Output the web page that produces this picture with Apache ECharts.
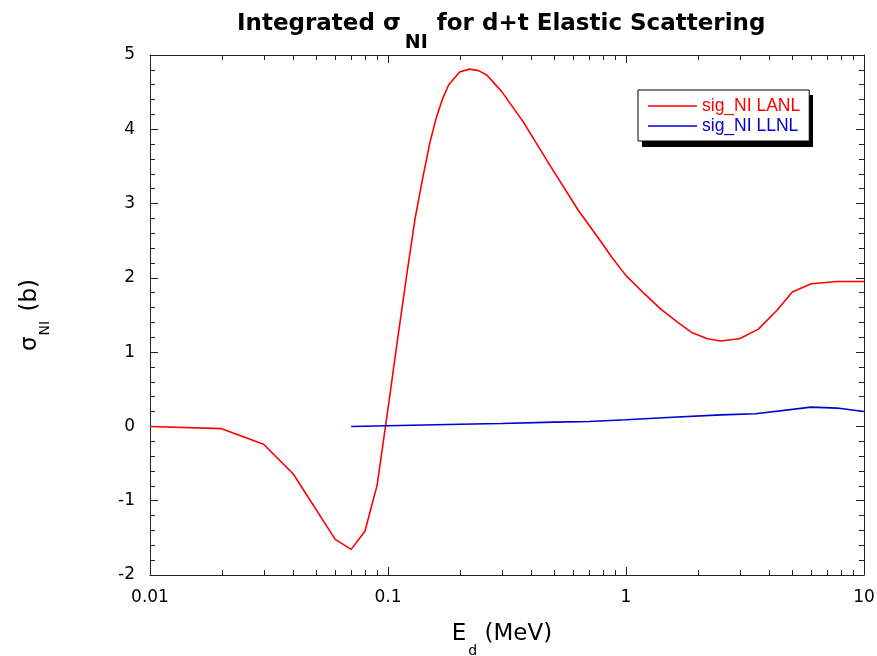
<!DOCTYPE html>
<html><head><meta charset="utf-8">
<script src="https://cdn.jsdelivr.net/npm/echarts@6/dist/echarts.min.js"></script>
<style>html,body{margin:0;padding:0;background:#fff}#c{width:877px;height:656px}</style>
</head><body><div id="c"></div>
<script>
// LANL integrated nuclear-interference cross section (b) vs deuteron energy (MeV)
const lanlEnergy = [0.01, 0.02, 0.03, 0.04, 0.06, 0.07, 0.08, 0.09, 0.1, 0.11, 0.12, 0.13, 0.14, 0.15, 0.16, 0.17, 0.18, 0.2, 0.22, 0.24, 0.26, 0.3, 0.37, 0.48, 0.63, 0.78, 0.87, 1.0, 1.2, 1.4, 1.65, 1.9, 2.2, 2.5, 3.0, 3.6, 4.3, 5.0, 6.0, 7.7, 10];
const lanlSigma  = [0.0, -0.03, -0.24, -0.64, -1.52, -1.655, -1.41, -0.79, 0.24, 1.2, 2.05, 2.8, 3.35, 3.82, 4.17, 4.42, 4.6, 4.77, 4.81, 4.79, 4.73, 4.51, 4.1, 3.51, 2.91, 2.5, 2.28, 2.03, 1.78, 1.58, 1.4, 1.26, 1.18, 1.15, 1.18, 1.31, 1.56, 1.81, 1.92, 1.95, 1.95];
// LLNL values
const llnlEnergy = [0.07, 0.1, 0.2, 0.3, 0.5, 0.7, 1.0, 1.5, 2.5, 3.5, 6.0, 7.7, 10];
const llnlSigma  = [0.0, 0.01, 0.03, 0.04, 0.058, 0.067, 0.09, 0.12, 0.155, 0.17, 0.26, 0.247, 0.2];
const xTickLabels = { '0.01': '0.01', '0.1': '0.1', '1': '1', '10': '10' };
const seriesNames = ['sig_NI LANL', 'sig_NI LLNL'];
const seriesColors = ['#ff0000', '#0000d0'];

const pairs = (xs, ys) => xs.map((x, i) => [x, ys[i]]);
const axisColor = '#222';
const sans = 'DejaVu Sans';
const labelFont = { fontFamily: sans, fontSize: 17, color: '#000' };

const chart = echarts.init(document.getElementById('c'), null, { renderer: 'canvas' });
const xBase = {
  type: 'log', logBase: 10, min: 0.01, max: 10,
  axisLine: { show: true, onZero: false, lineStyle: { color: axisColor, width: 1 } },
  axisTick: { show: true, inside: true, length: 8, lineStyle: { color: axisColor } },
  splitLine: { show: false }
};
const yBase = {
  type: 'value', min: -2, max: 5, interval: 1,
  axisLine: { show: true, onZero: false, lineStyle: { color: axisColor, width: 1 } },
  axisTick: { show: true, inside: true, length: 8, lineStyle: { color: axisColor } },
  minorTick: { show: true, splitNumber: 5, length: 5, lineStyle: { color: axisColor } },
  splitLine: { show: false }, minorSplitLine: { show: false }
};

chart.setOption({
  animation: false,
  backgroundColor: '#fff',
  title: {
    text: '{t|Integrated }{g|σ}{sub|NI}{t| for d+t Elastic Scattering}',
    left: 237, top: 9, padding: 0,
    textStyle: {
      fontFamily: sans, fontWeight: 'bold', fontSize: 23, color: '#000',
      rich: {
        t: { fontFamily: sans, fontWeight: 'bold', fontSize: 23, color: '#000', verticalAlign: 'top', height: 30 },
        g: { fontFamily: sans, fontWeight: 'bold', fontSize: 23, color: '#000', verticalAlign: 'top', height: 30 },
        sub: { fontFamily: sans, fontWeight: 'bold', fontSize: 19, color: '#000', verticalAlign: 'bottom', height: 68, padding: [0, 1, 0, 4] }
      }
    }
  },
  grid: { left: 150, right: 13, top: 55, bottom: 81, containLabel: false, outerBoundsMode: 'none' },
  legend: {
    orient: 'vertical', left: 638, top: 90,
    icon: 'rect', itemWidth: 49, itemHeight: 1.6, itemGap: 0,
    padding: [6, 9, 5, 10],
    backgroundColor: '#fff', borderColor: '#000', borderWidth: 1,
    data: seriesNames.map((n, i) => ({ name: n, textStyle: { color: seriesColors[i] } })),
    textStyle: { fontFamily: 'Liberation Sans', fontSize: 17.5, lineHeight: 20 }
  },
  xAxis: [
    Object.assign({}, xBase, {
      position: 'bottom',
      axisLabel: Object.assign({ margin: 14, formatter: v => xTickLabels[String(v)] || '' }, labelFont),
      name: '{e|E}{d|d}{u| (MeV)}', nameLocation: 'middle', nameGap: 45,
      nameTextStyle: {
        rich: {
          e: { fontFamily: sans, fontSize: 23, color: '#000', verticalAlign: 'top', height: 28 },
          d: { fontFamily: sans, fontSize: 14, color: '#000', verticalAlign: 'bottom', height: 62, padding: [0, 0, 0, 2] },
          u: { fontFamily: sans, fontSize: 23, color: '#000', verticalAlign: 'top', height: 28, padding: [0, 10, 0, 0] }
        }
      }
    }),
    Object.assign({}, xBase, { position: 'top', axisLabel: { show: false } })
  ],
  yAxis: [
    Object.assign({}, yBase, {
      position: 'left',
      axisLabel: Object.assign({ margin: 15 }, labelFont),
      name: '{g|σ}{sub|NI}{e| (b)}', nameLocation: 'middle', nameGap: 76, nameRotate: 90,
      nameTextStyle: {
        rich: {
          g: { fontFamily: sans, fontSize: 23, color: '#000', verticalAlign: 'top', height: 28 },
          sub: { fontFamily: sans, fontSize: 14, color: '#000', verticalAlign: 'bottom', height: 58, padding: [0, 2, 0, 1] },
          e: { fontFamily: sans, fontSize: 23, color: '#000', verticalAlign: 'top', height: 28 }
        }
      }
    }),
    Object.assign({}, yBase, { position: 'right', axisLabel: { show: false } })
  ],
  series: [
    {
      name: seriesNames[0], type: 'line', xAxisIndex: 0, yAxisIndex: 0,
      data: pairs(lanlEnergy, lanlSigma), symbol: 'none',
      lineStyle: { color: seriesColors[0], width: 1.6 }, itemStyle: { color: seriesColors[0] }
    },
    {
      name: seriesNames[1], type: 'line', xAxisIndex: 0, yAxisIndex: 0,
      data: pairs(llnlEnergy, llnlSigma), symbol: 'none',
      lineStyle: { color: seriesColors[1], width: 1.6 }, itemStyle: { color: seriesColors[1] }
    }
  ]
});

// Minor ticks of the log axis (2..9 in every decade), on bottom and top edges,
// plus the drop shadow behind the legend box
const minorValues = [];
for (let k = -2; k <= 0; k++) for (let m = 2; m <= 9; m++) minorValues.push(m * Math.pow(10, k));
const yBottom = chart.convertToPixel({ yAxisIndex: 0 }, -2);
const yTop = chart.convertToPixel({ yAxisIndex: 0 }, 5);
const extras = [];
minorValues.forEach(v => {
  const x = Math.round(chart.convertToPixel({ xAxisIndex: 0 }, v)) + 0.5;
  extras.push({ type: 'line', z: 1, shape: { x1: x, y1: yBottom, x2: x, y2: yBottom - 5 }, style: { stroke: axisColor, lineWidth: 1 }, silent: true });
  extras.push({ type: 'line', z: 1, shape: { x1: x, y1: yTop, x2: x, y2: yTop + 5 }, style: { stroke: axisColor, lineWidth: 1 }, silent: true });
});
extras.push({ type: 'rect', z: 0, shape: { x: 642, y: 95, width: 171, height: 52 }, style: { fill: '#000' }, silent: true });
chart.setOption({ graphic: extras });
</script>
</body></html>
